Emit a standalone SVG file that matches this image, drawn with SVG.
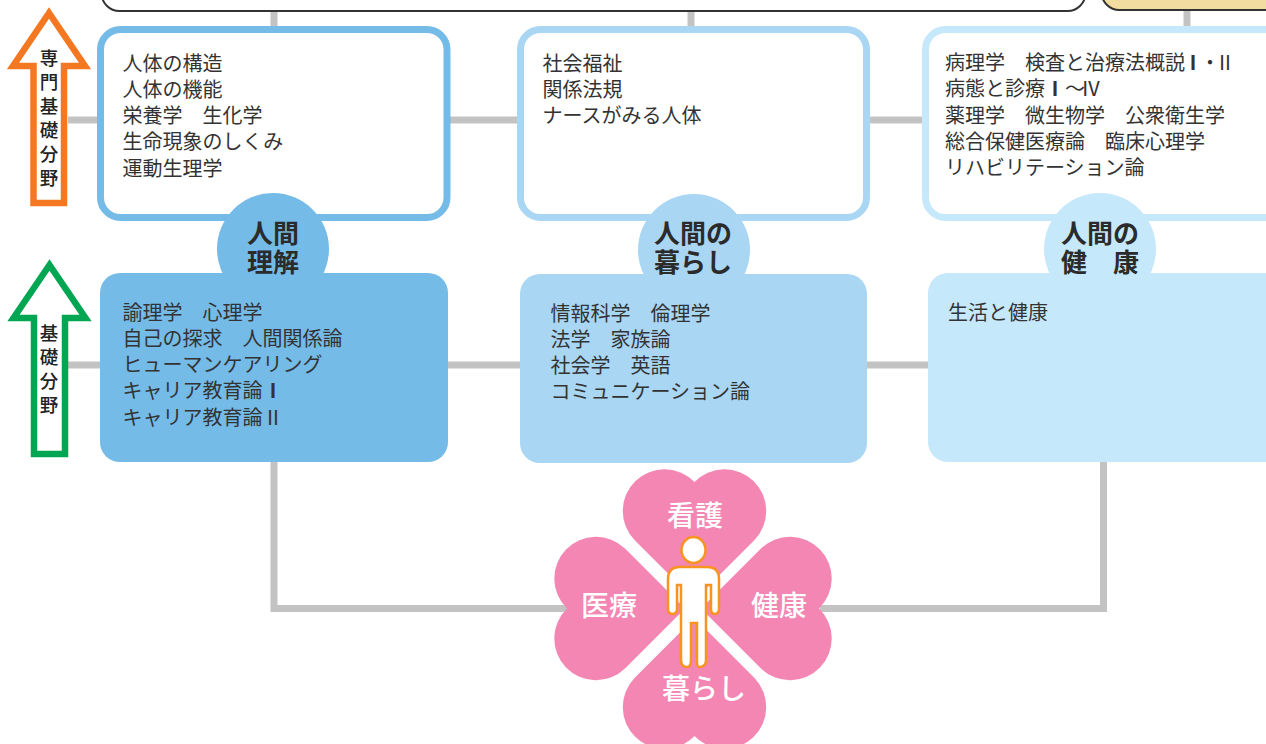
<svg xmlns="http://www.w3.org/2000/svg" width="1266" height="744" viewBox="0 0 1266 744">
<style>
text{font-family:"Noto Sans CJK JP","Noto Sans",sans-serif;}
.t{font-size:20px;fill:#333;}
.b{font-weight:700;}
.h{font-size:26px;font-weight:700;fill:#2b2b2b;text-anchor:middle;}
.a{font-size:18.500px;font-weight:500;fill:#222;text-anchor:middle;}
.p{font-size:28px;font-weight:500;fill:#fff;text-anchor:middle;}
.c{fill:none;stroke:#c3c3c3;stroke-width:7;}
.petal{fill:#f386b3;}
.man{fill:#fff;stroke:#f7931e;stroke-width:2.500;}
</style>
<defs>
<path id="heart" d="M0,-7 L-60,-67 A41.700,41.700 0 1 1 0,-125 A41.700,41.700 0 1 1 60,-67 Z"/>
</defs>
<g id="connectors">
<path class="c" d="M274,0V30M691,0V30M1187,0V30"/>
<path class="c" d="M68,120H100M450,120H520M868,120H925"/>
<path class="c" d="M68,365H100M445,365H523M865,365H930"/>
<path class="c" d="M274,460V608.500H570M1103.500,460V608.500H820"/>
</g>
<g id="top-box-main"><rect x="101.500" y="-30" width="984" height="41" rx="18" fill="#fff" stroke="#333" stroke-width="2"/></g>
<g id="top-box-tan"><rect x="1101.500" y="-30" width="200" height="40" rx="18" fill="#f3dc9f" stroke="#333" stroke-width="2"/></g>
<g id="arrow-senmon">
<path d="M49,13L13,66H33.500V203H64V66H85Z" fill="#fff" stroke="#f47721" stroke-width="6.500"/>
<text class="a"><tspan x="49" y="65">専</tspan><tspan x="49" y="89">門</tspan><tspan x="49" y="113">基</tspan><tspan x="49" y="137">礎</tspan><tspan x="49" y="161">分</tspan><tspan x="49" y="185">野</tspan></text>
</g>
<g id="arrow-kiso">
<path d="M49.500,265L13.500,318H34V454H65V318H85.500Z" fill="#fff" stroke="#00a651" stroke-width="6.500"/>
<text class="a"><tspan x="49" y="340">基</tspan><tspan x="49" y="364">礎</tspan><tspan x="49" y="388">分</tspan><tspan x="49" y="412">野</tspan></text>
</g>
<g id="upper-1">
<rect x="100.500" y="29.500" width="346.500" height="188" rx="20" fill="#fff" stroke="#74bbe8" stroke-width="7"/>
<text class="t"><tspan x="122.500" y="71">人体の構造</tspan><tspan x="122.500" y="97">人体の機能</tspan><tspan x="122.500" y="123">栄養学　生化学</tspan><tspan x="122.500" y="149">生命現象のしくみ</tspan><tspan x="122.500" y="175.500">運動生理学</tspan></text>
</g>
<g id="upper-2">
<rect x="520.500" y="29.500" width="346" height="188" rx="20" fill="#fff" stroke="#a9d6f3" stroke-width="7"/>
<text class="t"><tspan x="542.500" y="71">社会福祉</tspan><tspan x="542.500" y="97">関係法規</tspan><tspan x="542.500" y="123">ナースがみる人体</tspan></text>
</g>
<g id="upper-3">
<rect x="925.500" y="29.500" width="380" height="188" rx="20" fill="#fff" stroke="#c5e8fa" stroke-width="7"/>
<text class="t"><tspan x="945" y="70">病理学　検査と治療法概説</tspan><tspan class="b" x="1183" y="70">Ⅰ</tspan><tspan x="1200" y="70">・</tspan><tspan x="1215" y="70">Ⅱ</tspan><tspan x="945" y="96">病態と診療</tspan><tspan class="b" x="1045" y="96">Ⅰ</tspan><tspan x="1065" y="96">～</tspan><tspan x="1081" y="96">Ⅳ</tspan><tspan x="945" y="122.500">薬理学　微生物学　公衆衛生学</tspan><tspan x="945" y="148.500">総合保健医療論　臨床心理学</tspan><tspan x="945" y="174.500">リハビリテーション論</tspan></text>
</g>
<g id="lower-1">
<circle cx="273" cy="249" r="56" fill="#74bbe8"/>
<rect x="100" y="273" width="348" height="189" rx="20" fill="#74bbe8"/>
<text class="h"><tspan x="273" y="243">人間</tspan><tspan x="273" y="272">理解</tspan></text>
<text class="t"><tspan x="122.500" y="320">諭理学　心理学</tspan><tspan x="122.500" y="346">自己の探求　人間関係論</tspan><tspan x="122.500" y="372">ヒューマンケアリング</tspan><tspan x="122.500" y="398">キャリア教育論</tspan><tspan class="b" x="263" y="398">Ⅰ</tspan><tspan x="122.500" y="425">キャリア教育論</tspan><tspan x="263" y="425">Ⅱ</tspan></text>
</g>
<g id="lower-2">
<circle cx="694" cy="250" r="56" fill="#a9d6f3"/>
<rect x="520" y="274" width="347" height="189" rx="20" fill="#a9d6f3"/>
<text class="h"><tspan x="693" y="243">人間の</tspan><tspan x="693" y="272">暮らし</tspan></text>
<text class="t"><tspan x="550.500" y="321">情報科学　倫理学</tspan><tspan x="550.500" y="347">法学　家族論</tspan><tspan x="550.500" y="373">社会学　英語</tspan><tspan x="550.500" y="399">コミュニケーション論</tspan></text>
</g>
<g id="lower-3">
<circle cx="1100" cy="249" r="56" fill="#c5e8fa"/>
<rect x="928" y="273" width="380" height="189" rx="20" fill="#c5e8fa"/>
<text class="h"><tspan x="1100" y="243">人間の</tspan><tspan x="1100" y="272">健　康</tspan></text>
<text class="t"><tspan x="948" y="320">生活と健康</tspan></text>
</g>
<g id="flower">
<use href="#heart" class="petal" transform="translate(694.500,607)"/>
<use href="#heart" class="petal" transform="translate(692,608.500) rotate(-90)"/>
<use href="#heart" class="petal" transform="translate(694,608.500) rotate(90)"/>
<use href="#heart" class="petal" transform="translate(694.500,611) rotate(180)"/>
</g>
<g id="person">
<ellipse class="man" cx="693.500" cy="550" rx="12" ry="13"/>
<path class="man" d="M680,567H707Q719,567 719,579V609Q719,614 714.500,614Q711,614 711,609V585H706V660Q706,667 699,667Q697,667 697,660V623H691V660Q691,667 687,667Q681,667 681,660V585H677V609Q677,614 672.500,614Q668,614 668,609V579Q668,567 680,567Z"/>
</g>
<g id="labels">
<text class="p" x="695" y="526">看護</text>
<text class="p" x="609" y="616">医療</text>
<text class="p" x="779" y="616">健康</text>
<text class="p" x="704" y="699">暮らし</text>
</g>
</svg>
